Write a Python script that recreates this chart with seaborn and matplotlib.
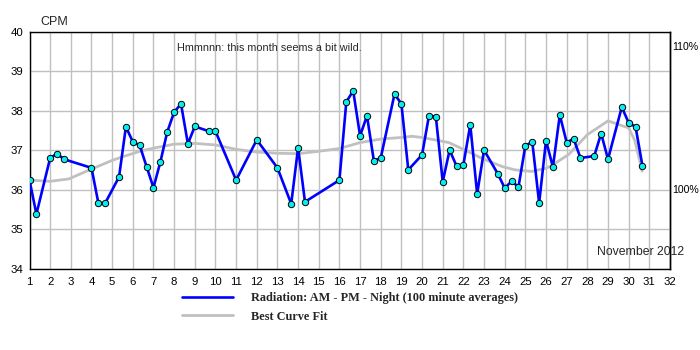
import numpy as np
import pandas as pd
import matplotlib
matplotlib.use("Agg")
import matplotlib.pyplot as plt
from matplotlib.lines import Line2D
from matplotlib.ticker import MultipleLocator
import seaborn as sns

# 100-minute average readings: day of month and reading slot (0 = AM, 1 = PM, 2 = Night)
day = [1, 1, 2, 2, 2, 4, 4, 4, 5, 5, 6, 6, 6, 7, 7, 7, 8, 8, 8, 9,
       9, 10, 11, 12, 13, 13, 14, 14, 16, 16, 16, 17, 17, 17, 18, 18, 19, 19,
       20, 20, 20, 21, 21, 21, 22, 22, 22, 23, 23, 24, 24, 24, 25, 25, 25,
       26, 26, 26, 27, 27, 27, 28, 28, 29, 29, 30, 30, 30]
slot = [0, 1, 0, 1, 2, 0, 1, 2, 1, 2, 0, 1, 2, 0, 1, 2, 0, 1, 2, 0,
        2, 0, 0, 0, 0, 2, 0, 1, 0, 1, 2, 0, 1, 2, 0, 2, 0, 1,
        0, 1, 2, 0, 1, 2, 0, 1, 2, 0, 2, 0, 1, 2, 0, 1, 2,
        0, 1, 2, 0, 1, 2, 1, 2, 0, 2, 0, 1, 2]
cpm = [36.25, 35.39, 36.81, 36.92, 36.78, 36.56, 35.67, 35.67, 36.33, 37.60,
       37.22, 37.13, 36.59, 36.06, 36.71, 37.47, 37.97, 38.18, 37.17, 37.61,
       37.49, 37.49, 36.25, 37.27, 36.56, 35.65, 37.07, 35.70, 36.25, 38.23,
       38.51, 37.37, 37.88, 36.74, 36.81, 38.43, 38.18, 36.51,
       36.89, 37.88, 37.86, 36.21, 37.01, 36.61, 36.64, 37.65, 35.90, 37.01,
       36.41, 36.05, 36.22, 36.08, 37.12, 37.22, 35.67,
       37.25, 36.58, 37.90, 37.20, 37.30, 36.81, 36.86, 37.43, 36.78, 38.10,
       37.70, 37.60, 36.61]

# smoothed trend
fit_day = [1.0, 2.0, 2.9, 4.0, 5.0, 5.5, 6.4, 7.1, 8.0, 9.0, 10.0, 11.0, 12.0,
           13.0, 14.0, 15.0, 16.0, 17.0, 18.0, 19.0, 19.5, 20.0, 20.6, 21.3,
           22.0, 22.9, 23.9, 24.5, 25.3, 26.0, 26.3, 27.1, 28.0, 29.0, 30.0,
           30.3, 30.65]
fit_cpm = [36.25, 36.22, 36.28, 36.53, 36.75, 36.84, 36.99, 37.07, 37.16, 37.18,
           37.14, 37.03, 36.96, 36.93, 36.92, 36.98, 37.05, 37.20, 37.29, 37.33,
           37.36, 37.33, 37.27, 37.20, 37.03, 36.80, 36.59, 36.51, 36.47, 36.55,
           36.63, 36.90, 37.40, 37.75, 37.57, 37.25, 36.48]

x_ticks = list(range(1, 33))
baseline_cpm = 36.03
pct_ticks = [100, 110]

sns.set_style("white")
plt.rcParams["font.family"] = ["Liberation Sans", "DejaVu Sans"]

fig = plt.figure(figsize=(7, 3.5), dpi=100)
ax = fig.add_axes([29.5 / 700, 1 - 269 / 350, (670 - 29.5) / 700, (269 - 32) / 350])

readings = pd.DataFrame({"t": np.array(day) + np.array(slot) / 3, "cpm": cpm})
fit = pd.DataFrame({"t": fit_day, "cpm": fit_cpm})

sns.lineplot(data=fit, x="t", y="cpm", ax=ax, color="#c0c0c0", linewidth=2.0,
             estimator=None, sort=False, zorder=3)
sns.lineplot(data=readings, x="t", y="cpm", ax=ax, color="#0000ff", linewidth=1.9,
             marker="o", markersize=4.6, markerfacecolor="#00f0f0",
             markeredgecolor="black", markeredgewidth=0.7,
             estimator=None, sort=False, zorder=4)

ax.set_xlim(1, 32)
ax.set_ylim(34, 40)
ax.set_xticks(x_ticks)
ax.xaxis.set_minor_locator(MultipleLocator(1 / 3))
ax.yaxis.set_major_locator(MultipleLocator(1))
ax.yaxis.set_minor_locator(MultipleLocator(0.1))
ax.set_xlabel("")
ax.set_ylabel("")
ax.grid(which="major", color="#c0c0c0", linewidth=1.0)
ax.set_axisbelow(True)
ax.tick_params(which="both", direction="inout", color="black", width=0.8,
               labelsize=8.2, labelcolor="black")
ax.tick_params(which="major", length=5)
ax.tick_params(which="minor", length=4)
ax.tick_params(axis="y", pad=2)
ax.tick_params(axis="x", pad=3)
for s in ax.spines.values():
    s.set_color("black")
    s.set_linewidth(1.0)

sec = ax.secondary_yaxis("right", functions=(lambda y: y / baseline_cpm * 100,
                                              lambda p: p * baseline_cpm / 100))
sec.set_yticks(pct_ticks, labels=[f"{p}%" for p in pct_ticks])
sec.tick_params(length=0, labelsize=7.6, pad=1.5, labelcolor="black")
sec.spines["right"].set_color("black")
sec.spines["right"].set_linewidth(1.0)

ax.text(0.0164, 1.042, "CPM", transform=ax.transAxes, ha="left", va="center",
        fontsize=9)
ax.text(8.14, 39.60, "Hmmnnn: this month seems a bit wild.", ha="left",
        va="center", fontsize=7.8)
ax.text(28.45, 34.44, "November 2012", ha="left", va="center", fontsize=8.8)

handles = [Line2D([], [], color="#0000ff", linewidth=1.9),
           Line2D([], [], color="#c0c0c0", linewidth=2.0)]
labels = ["Radiation: AM - PM - Night (100 minute averages)", "Best Curve Fit"]
fig.legend(handles, labels, loc="upper left",
           bbox_to_anchor=(182 / 700, 1 - 292 / 350),
           prop=dict(family="Liberation Serif", weight="bold", size=8.8),
           frameon=False, handlelength=4.2, handletextpad=1.45,
           labelspacing=0.55, borderpad=0, borderaxespad=0)

fig.savefig("out.png", dpi=100)
